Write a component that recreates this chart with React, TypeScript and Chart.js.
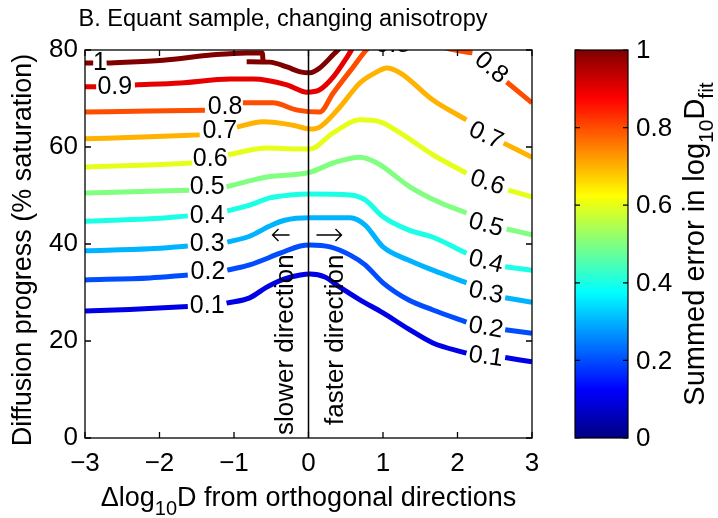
import React, { useEffect, useRef } from 'react';
import { Chart, registerables } from 'chart.js';

Chart.register(...registerables);

const FONT = '"Liberation Sans", Arial, Helvetica, sans-serif';

// ---- contour levels ----
const levelText = ['0.1', '0.2', '0.3', '0.4', '0.5', '0.6', '0.7', '0.8', '0.9', '1'];
const levelColors = ['#0000e6', '#004dff', '#00b3ff', '#1affe6', '#80ff80', '#e6ff1a', '#ffb300', '#ff4d00', '#e60000', '#800000'];

type P = [number, number | null];

// each contour: [Δlog10D, diffusion progress %]; null = gap where the inline label sits
const c01: P[] = [[-3, 26.2], [-2.4, 26.5], [-1.62, 27.1], [-1.36, null], [-1.1, 27.8], [-0.79, 28.9], [-0.56, 31.1], [-0.32, 32.8], [-0.11, 33.6], [0.02, 33.8], [0.22, 33.2], [0.42, 31.1], [0.69, 28.5], [1.0, 25.8], [1.34, 22.5], [1.67, 19.6], [2.12, 17.5], [2.38, null], [2.64, 16.6], [3, 15.7]];
const c02: P[] = [[-3, 32.6], [-2.13, 33.0], [-1.62, 33.6], [-1.35, null], [-1.09, 34.6], [-0.79, 35.7], [-0.38, 38.1], [-0.11, 39.6], [0.02, 39.8], [0.29, 39.4], [0.56, 37.7], [0.76, 35.7], [1.0, 32.0], [1.34, 28.5], [1.67, 26.4], [2.12, 23.9], [2.38, null], [2.64, 22.3], [3, 21.6]];
const c03: P[] = [[-3, 38.6], [-2.13, 39.0], [-1.62, 39.6], [-1.36, null], [-1.09, 40.4], [-0.79, 41.6], [-0.52, 43.7], [-0.32, 44.9], [0.02, 45.4], [0.56, 45.4], [0.76, 43.9], [1.0, 39.4], [1.34, 36.7], [1.67, 34.6], [2.12, 32.0], [2.38, null], [2.64, 28.9], [3, 28.0]];
const c04: P[] = [[-3, 44.7], [-2.13, 45.2], [-1.62, 45.8], [-1.36, null], [-1.09, 46.8], [-0.79, 48.0], [-0.52, 49.5], [-0.25, 50.1], [0.02, 50.3], [0.56, 50.1], [0.76, 49.1], [1.0, 45.6], [1.34, 42.9], [1.67, 41.4], [2.12, 38.1], [2.38, null], [2.64, 35.3], [3, 34.6]];
const c05: P[] = [[-3, 50.5], [-2.13, 50.9], [-1.6, 51.1], [-1.36, null], [-1.1, 51.8], [-0.56, 53.8], [0.02, 54.8], [0.33, 56.7], [0.69, 57.9], [0.92, 56.7], [1.36, 51.8], [1.77, 48.5], [2.12, 46.4], [2.38, null], [2.66, 43.1], [3, 41.9]];
const c06: P[] = [[-3, 55.9], [-2.13, 56.3], [-1.56, 56.7], [-1.32, null], [-1.08, 58.4], [-0.56, 59.8], [-0.15, 59.6], [0.02, 59.6], [0.33, 62.9], [0.69, 65.6], [0.96, 65.2], [1.23, 62.9], [1.67, 58.4], [2.12, 54.6], [2.4, null], [2.68, 51.1], [3, 49.7]];
const c07: P[] = [[-3, 61.7], [-2.13, 62.1], [-1.46, 62.5], [-1.19, null], [-0.96, 64.1], [-0.61, 65.2], [-0.21, 64.5], [0.02, 63.7], [0.15, 64.1], [0.42, 68.2], [0.69, 73.2], [0.92, 75.5], [1.05, 76.3], [1.23, 75.3], [1.67, 69.7], [2.12, 65.6], [2.38, null], [2.62, 60.8], [3, 57.9]];
const c08: P[] = [[-3, 67.2], [-2.13, 67.4], [-1.39, 67.6], [-1.12, null], [-0.88, 69.1], [-0.48, 69.1], [-0.15, 67.6], [0.15, 67.2], [0.33, 71.1], [0.6, 76.5], [0.79, 80.2], [0.95, 81.8], [1.13, null], [1.36, 82.5], [1.9, 80.2], [2.2, 79.4], [2.45, null], [2.66, 73.4], [3, 69.1]];
const c09: P[] = [[-3, 72.4], [-2.85, 72.4], [-2.6, null], [-2.33, 72.8], [-1.72, 73.2], [-1.05, 74.0], [-0.74, 74.0], [-0.29, 72.8], [-0.02, 71.3], [0.15, 71.8], [0.33, 74.4], [0.52, 78.6], [0.62, 81.0], [0.76, 83.1], [1.0, 86], [1.5, 88]];
const c10a: P[] = [[-3, 77.3], [-2.89, 77.3], [-2.8, null], [-2.71, 77.3], [-1.95, 77.9], [-1.28, 79.0], [-0.83, 79.4], [-0.62, 79.4], [-0.61, 77.7]];
const c10b: P[] = [[-0.83, 77.6], [-0.52, 77.5], [-0.29, 76.5], [-0.11, 75.5], [0.02, 75.3], [0.15, 76.3], [0.33, 79.0], [0.42, 80.4], [0.56, 83.1], [0.7, 86]];

const contourSets: P[][] = [c01, c02, c03, c04, c05, c06, c07, c08, c09, c10a, c10b];
const contourLevelIndex = [0, 1, 2, 3, 4, 5, 6, 7, 8, 9, 9];

// inline contour labels
const leftLabelX = [-1.36, -1.35, -1.36, -1.36, -1.36, -1.32, -1.19, -1.12, -2.6, -2.8];
const leftLabelY = [27.2, 34.2, 40.0, 45.8, 51.8, 57.5, 63.3, 68.2, 72.4, 77.3];
const rightLabelX = [2.38, 2.38, 2.38, 2.38, 2.38, 2.4, 2.38, 2.45];
const rightLabelY = [16.7, 22.7, 29.9, 36.3, 43.9, 52.6, 62.3, 76.3];
const rightLabelAngle = [8, 10, 12, 14, 15, 18, 25, 40];
const topLabelText = '0.8';
const topLabelX = 1.13;
const topLabelY = 81.0;

// axes
const xTicks = [-3, -2, -1, 0, 1, 2, 3];
const yTicks = [0, 20, 40, 60, 80];
const cbTicks = [0, 0.2, 0.4, 0.6, 0.8, 1];
const cbTickLabels = ['0', '0.2', '0.4', '0.6', '0.8', '1'];
const jetStops: [number, string][] = [[0, '#000080'], [0.125, '#0000ff'], [0.375, '#00ffff'], [0.625, '#ffff00'], [0.875, '#ff0000'], [1, '#800000']];

const titleText = 'B. Equant sample, changing anisotropy';
const yTitleText = 'Diffusion progress (% saturation)';
const slowerText = 'slower direction';
const fasterText = 'faster direction';

type Part = { t: string; size: number; dy: number };
const xTitleParts: Part[] = [
  { t: '\u0394log', size: 27, dy: 0 },
  { t: '10', size: 20, dy: 9 },
  { t: 'D from orthogonal directions', size: 27, dy: 0 },
];
const cbTitleParts: Part[] = [
  { t: 'Summed error in log', size: 29, dy: 0 },
  { t: '10', size: 21, dy: 9 },
  { t: 'D', size: 29, dy: 0 },
  { t: 'fit', size: 21, dy: 9 },
];

function drawParts(ctx: CanvasRenderingContext2D, parts: Part[], cx: number, by: number) {
  const widths = parts.map((p) => {
    ctx.font = `${p.size}px ${FONT}`;
    return ctx.measureText(p.t).width;
  });
  const total = widths.reduce((s, w) => s + w, 0);
  let x = cx - total / 2;
  ctx.textAlign = 'left';
  ctx.textBaseline = 'alphabetic';
  parts.forEach((p, i) => {
    ctx.font = `${p.size}px ${FONT}`;
    ctx.fillText(p.t, x, by + p.dy);
    x += widths[i];
  });
}

const CB_LEFT = 575;
const CB_RIGHT = 628;

const decoPlugin = {
  id: 'deco',
  afterDatasetsDraw(chart: any) {
    const { ctx, chartArea: a } = chart;
    const xs = chart.scales.x;
    const ys = chart.scales.y;
    ctx.save();
    ctx.fillStyle = '#000';
    ctx.strokeStyle = '#000';

    // x = 0 divider
    const x0 = xs.getPixelForValue(0);
    ctx.lineWidth = 1.5;
    ctx.beginPath();
    ctx.moveTo(x0, a.top);
    ctx.lineTo(x0, a.bottom);
    ctx.stroke();

    // inline contour labels
    ctx.font = `25px ${FONT}`;
    ctx.textAlign = 'center';
    ctx.textBaseline = 'middle';
    leftLabelX.forEach((lx, i) => {
      ctx.fillText(levelText[i], xs.getPixelForValue(lx), ys.getPixelForValue(leftLabelY[i]));
    });
    rightLabelX.forEach((lx, i) => {
      ctx.save();
      ctx.translate(xs.getPixelForValue(lx), ys.getPixelForValue(rightLabelY[i]));
      ctx.rotate((rightLabelAngle[i] * Math.PI) / 180);
      ctx.fillText(levelText[i], 0, 0);
      ctx.restore();
    });
    ctx.save();
    ctx.beginPath();
    ctx.rect(a.left, a.top, a.right - a.left, a.bottom - a.top);
    ctx.clip();
    ctx.fillText(topLabelText, xs.getPixelForValue(topLabelX), ys.getPixelForValue(topLabelY));
    ctx.restore();

    // box
    ctx.lineWidth = 1.3;
    ctx.strokeRect(a.left, a.top, a.right - a.left, a.bottom - a.top);
    // inward ticks
    const tl = 6;
    ctx.beginPath();
    xTicks.forEach((t) => {
      const px = xs.getPixelForValue(t);
      ctx.moveTo(px, a.bottom);
      ctx.lineTo(px, a.bottom - tl);
      ctx.moveTo(px, a.top);
      ctx.lineTo(px, a.top + tl);
    });
    yTicks.forEach((t) => {
      const py = ys.getPixelForValue(t);
      ctx.moveTo(a.left, py);
      ctx.lineTo(a.left + tl, py);
      ctx.moveTo(a.right, py);
      ctx.lineTo(a.right - tl, py);
    });
    ctx.stroke();

    // direction annotations
    ctx.font = `26px ${FONT}`;
    ctx.textAlign = 'left';
    ctx.textBaseline = 'alphabetic';
    ctx.save();
    ctx.translate(x0 - 16, 435);
    ctx.rotate(-Math.PI / 2);
    ctx.fillText(slowerText, 0, 0);
    ctx.restore();
    ctx.save();
    ctx.translate(x0 + 34, 425);
    ctx.rotate(-Math.PI / 2);
    ctx.fillText(fasterText, 0, 0);
    ctx.restore();

    // arrows
    const ay = 235;
    ctx.lineWidth = 1.4;
    ctx.beginPath();
    ctx.moveTo(x0 - 19, ay);
    ctx.lineTo(x0 - 36, ay);
    ctx.moveTo(x0 - 30, ay - 6);
    ctx.lineTo(x0 - 36, ay);
    ctx.lineTo(x0 - 30, ay + 6);
    ctx.moveTo(x0 + 8, ay);
    ctx.lineTo(x0 + 33, ay);
    ctx.moveTo(x0 + 27, ay - 6);
    ctx.lineTo(x0 + 33, ay);
    ctx.lineTo(x0 + 27, ay + 6);
    ctx.stroke();

    ctx.restore();
  },
  afterDraw(chart: any) {
    const { ctx, chartArea: a } = chart;
    ctx.save();
    ctx.fillStyle = '#000';
    ctx.strokeStyle = '#000';

    // title
    ctx.font = `23.5px ${FONT}`;
    ctx.textAlign = 'center';
    ctx.textBaseline = 'alphabetic';
    ctx.fillText(titleText, 283, 26);

    // y title
    ctx.font = `27px ${FONT}`;
    ctx.save();
    ctx.translate(31, 250);
    ctx.rotate(-Math.PI / 2);
    ctx.fillText(yTitleText, 0, 0);
    ctx.restore();

    // x title
    drawParts(ctx, xTitleParts, (a.left + a.right) / 2, 506);

    // colorbar
    const top = a.top;
    const bottom = a.bottom;
    const g = ctx.createLinearGradient(0, bottom, 0, top);
    jetStops.forEach(([s, c]) => g.addColorStop(s, c));
    ctx.fillStyle = g;
    ctx.fillRect(CB_LEFT, top, CB_RIGHT - CB_LEFT, bottom - top);
    ctx.lineWidth = 1.2;
    ctx.strokeRect(CB_LEFT, top, CB_RIGHT - CB_LEFT, bottom - top);
    ctx.fillStyle = '#000';
    ctx.font = `26px ${FONT}`;
    ctx.textAlign = 'left';
    ctx.textBaseline = 'middle';
    ctx.beginPath();
    cbTicks.forEach((t, i) => {
      const py = bottom - t * (bottom - top);
      ctx.moveTo(CB_LEFT, py);
      ctx.lineTo(CB_LEFT + 5, py);
      ctx.moveTo(CB_RIGHT, py);
      ctx.lineTo(CB_RIGHT - 5, py);
      ctx.fillText(cbTickLabels[i], CB_RIGHT + 8, py + 1);
    });
    ctx.stroke();

    // colorbar title
    ctx.save();
    ctx.translate(704, 244);
    ctx.rotate(-Math.PI / 2);
    drawParts(ctx, cbTitleParts, 0, 0);
    ctx.restore();

    ctx.restore();
  },
};

export default function App() {
  const ref = useRef<HTMLCanvasElement | null>(null);

  useEffect(() => {
    if (!ref.current) return;
    Chart.defaults.font.family = FONT;
    Chart.defaults.color = '#000';
    const datasets = contourSets.map((pts, i) => ({
      data: pts.map(([x, y]) => ({ x, y })),
      borderColor: levelColors[contourLevelIndex[i]],
      borderWidth: 5,
      pointRadius: 0,
      pointHoverRadius: 0,
      fill: false,
      spanGaps: false,
      cubicInterpolationMode: 'monotone' as const,
      borderCapStyle: 'butt' as const,
      borderJoinStyle: 'round' as const,
      clip: 0,
    }));
    const chart = new Chart(ref.current, {
      type: 'line',
      data: { datasets },
      options: {
        animation: false,
        responsive: false,
        devicePixelRatio: 1,
        events: [],
        layout: { padding: { left: 0, right: 186, top: 50, bottom: 0 } },
        plugins: {
          legend: { display: false },
          tooltip: { enabled: false },
          title: { display: false },
        },
        scales: {
          x: {
            type: 'linear',
            min: -3,
            max: 3,
            grid: { display: false, drawTicks: false },
            border: { display: false },
            ticks: {
              stepSize: 1,
              padding: 10,
              color: '#000',
              font: { size: 26, family: FONT },
              callback: (v: any) => (v < 0 ? '\u2212' + Math.abs(v) : String(v)),
            },
            afterFit: (s: any) => {
              s.height = 80;
            },
          },
          y: {
            type: 'linear',
            min: 0,
            max: 80,
            grid: { display: false, drawTicks: false },
            border: { display: false },
            ticks: {
              stepSize: 20,
              padding: 7,
              color: '#000',
              font: { size: 26, family: FONT },
            },
            afterFit: (s: any) => {
              s.width = 85;
            },
          },
        },
      },
      plugins: [decoPlugin],
    });
    return () => chart.destroy();
  }, []);

  return (
    <div style={{ position: 'fixed', left: 0, top: 0, width: 718, height: 518, background: '#fff' }}>
      <canvas ref={ref} width={718} height={518} style={{ display: 'block' }} />
    </div>
  );
}
